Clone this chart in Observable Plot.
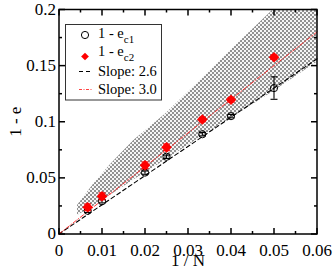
<!DOCTYPE html>
<html><head><meta charset="utf-8">
<script src="https://cdn.jsdelivr.net/npm/d3@7"></script>
<script src="https://cdn.jsdelivr.net/npm/@observablehq/plot@0.6"></script>
<style>body{margin:0;background:#fff} svg{display:block}</style>
</head><body><div id="chart"></div>
<script>
// data
const invN = [1/150, 0.01, 0.02, 0.025, 1/30, 0.04, 0.05];
const ec1 = [0.0207, 0.0292, 0.0547, 0.0688, 0.0889, 0.1050, 0.1300];
const ec1Err = [0.0015, 0.0015, 0.0015, 0.0015, 0.0015, 0.0015, 0.0100];
const ec2 = [0.0238, 0.0336, 0.0612, 0.0772, 0.1020, 0.1196, 0.1575];
const ec2Err = [0.003, 0.003, 0.003, 0.003, 0.002, 0.002, 0.002];
const slopeNames = ["Slope: 2.6", "Slope: 3.0"];
const slopes = [2.6, 3.0];
const lineX = [0, 0.06];
const bandX     = [0.0043, 0.008, 0.012, 0.0174, 0.0248, 0.0321, 0.0391, 0.0499, 0.06];
const bandLower = [0.0165, 0.0245, 0.0345, 0.0480, 0.0660, 0.0840, 0.1010, 0.1270, 0.1530];
const bandUpper = [0.0254, 0.0440, 0.0620, 0.0833, 0.1070, 0.1339, 0.1606, 0.2000, 0.2000];
const xTicks = [0, 0.01, 0.02, 0.03, 0.04, 0.05, 0.06];
const xTickLabels = ["0", "0.01", "0.02", "0.03", "0.04", "0.05", "0.06"];
const xMinor = [0.005, 0.015, 0.025, 0.035, 0.045, 0.055];
const yTicks = [0, 0.05, 0.1, 0.15, 0.2];
const yTickLabels = ["0", "0.05", "0.1", "0.15", "0.2"];
const yMinor = [0.025, 0.075, 0.125, 0.175];

const s1 = invN.map((x, i) => ({x, y: ec1[i], e: ec1Err[i]}));
const s2 = invN.map((x, i) => ({x, y: ec2[i], e: ec2Err[i]}));
const band = bandX.map((x, i) => ({x, lo: bandLower[i], hi: bandUpper[i]}));
const fitLines = slopes.flatMap((s, k) => lineX.map(x => ({x, y: s * x, k})));

const seg = (dx1, dy1, dx2, dy2) => ({draw(c) { c.moveTo(dx1, dy1); c.lineTo(dx2, dy2); }});
const capSym = seg(-3.5, 0, 3.5, 0);
const major = 6, minor = 3;

const FONT = "'Liberation Serif', 'Times New Roman', serif";

const plot = Plot.plot({
  width: 333, height: 271,
  marginLeft: 58.5, marginRight: 16.5, marginTop: 9, marginBottom: 37.5,
  x: {domain: [0, 0.06]},
  y: {domain: [0, 0.2]},
  style: {fontFamily: FONT, fontSize: "17px", color: "black", background: "white"},
  marks: [
    Plot.areaY(band, {x: "x", y1: "lo", y2: "hi", fill: "url(#hatch)", curve: "linear"}),
    Plot.line(fitLines.filter(d => d.k === 0), {x: "x", y: "y", stroke: "black", strokeWidth: 1.1, strokeDasharray: "4,3"}),
    Plot.line(fitLines.filter(d => d.k === 1), {x: "x", y: "y", stroke: "#ff2020", strokeWidth: 0.9, strokeDasharray: "4,2,1,2"}),
    // black series error bars + points
    Plot.ruleX(s1, {x: "x", y1: d => d.y - d.e, y2: d => d.y + d.e, stroke: "black", strokeWidth: 1.1}),
    Plot.dot(s1, {x: "x", y: d => d.y - d.e, symbol: capSym, r: 3.5, stroke: "black", fill: "none", strokeWidth: 1.1}),
    Plot.dot(s1, {x: "x", y: d => d.y + d.e, symbol: capSym, r: 3.5, stroke: "black", fill: "none", strokeWidth: 1.1}),
    Plot.dot(s1, {x: "x", y: "y", r: 3.6, stroke: "black", fill: "none", strokeWidth: 1}),
    // red series
    Plot.ruleX(s2, {x: "x", y1: d => d.y - d.e, y2: d => d.y + d.e, stroke: "red", strokeWidth: 1.1}),
    Plot.dot(s2, {x: "x", y: d => d.y - d.e, symbol: capSym, r: 3.5, stroke: "red", fill: "none", strokeWidth: 1.1}),
    Plot.dot(s2, {x: "x", y: d => d.y + d.e, symbol: capSym, r: 3.5, stroke: "red", fill: "none", strokeWidth: 1.1}),
    Plot.dot(s2, {x: "x", y: "y", r: 4.8, symbol: "diamond2", fill: "red", stroke: "none"}),
    // inward ticks
    Plot.dot(xTicks, {x: d => d, y: () => 0, symbol: seg(0, 0, 0, -major), stroke: "black", fill: "none"}),
    Plot.dot(xTicks, {x: d => d, y: () => 0.2, symbol: seg(0, 0, 0, major), stroke: "black", fill: "none"}),
    Plot.dot(xMinor, {x: d => d, y: () => 0, symbol: seg(0, 0, 0, -minor), stroke: "black", fill: "none"}),
    Plot.dot(xMinor, {x: d => d, y: () => 0.2, symbol: seg(0, 0, 0, minor), stroke: "black", fill: "none"}),
    Plot.dot(yTicks, {y: d => d, x: () => 0, symbol: seg(0, 0, major, 0), stroke: "black", fill: "none"}),
    Plot.dot(yTicks, {y: d => d, x: () => 0.06, symbol: seg(0, 0, -major, 0), stroke: "black", fill: "none"}),
    Plot.dot(yMinor, {y: d => d, x: () => 0, symbol: seg(0, 0, minor, 0), stroke: "black", fill: "none"}),
    Plot.dot(yMinor, {y: d => d, x: () => 0.06, symbol: seg(0, 0, -minor, 0), stroke: "black", fill: "none"}),
    Plot.axisX({ticks: xTicks, tickFormat: (d, i) => xTickLabels[i], tickSize: 0, tickPadding: 10, label: null, fontSize: 17}),
    Plot.axisY({ticks: yTicks, tickFormat: (d, i) => yTickLabels[i], tickSize: 0, tickPadding: 3, label: null, fontSize: 17}),
    Plot.frame({stroke: "black", strokeWidth: 1.5}),
    Plot.text(["1 / N"], {text: d => d, frameAnchor: "bottom", lineAnchor: "middle", dy: 27, fontSize: 17}),
    Plot.text(["1 - e"], {text: d => d, frameAnchor: "left", lineAnchor: "middle", textAnchor: "middle", dx: -43.5, rotate: -90, fontSize: 17})
  ]
});

// pattern definition
const svg = d3.select(plot);
const defs = svg.insert("defs", ":first-child");
const pat = defs.append("pattern").attr("id", "hatch").attr("patternUnits", "userSpaceOnUse")
  .attr("width", 4).attr("height", 4);
pat.append("rect").attr("width", 4).attr("height", 4).attr("fill", "#f6f6f6");
pat.append("rect").attr("x", 0).attr("y", 0).attr("width", 2).attr("height", 2).attr("fill", "#929292");
pat.append("rect").attr("x", 2).attr("y", 2).attr("width", 2).attr("height", 2).attr("fill", "#929292");

// legend
const lg = svg.append("g").attr("font-family", FONT).attr("font-size", 14.5).attr("fill", "black").attr("text-anchor", "start");
lg.append("rect").attr("x", 65.5).attr("y", 24.5).attr("width", 96).attr("height", 75.5)
  .attr("fill", "white").attr("stroke", "#333").attr("stroke-width", 1);
lg.append("circle").attr("cx", 85).attr("cy", 35).attr("r", 3.6).attr("fill", "none").attr("stroke", "black");
lg.append("path").attr("d", d3.symbol(d3.symbolSquare, 30)()).attr("transform", "translate(85,56.5) rotate(45)").attr("fill", "red");
lg.append("line").attr("x1", 79).attr("x2", 92).attr("y1", 71.5).attr("y2", 71.5).attr("stroke", "black").attr("stroke-dasharray", "4,3");
lg.append("line").attr("x1", 79).attr("x2", 92).attr("y1", 89.5).attr("y2", 89.5).attr("stroke", "#ff4040").attr("stroke-dasharray", "3,1.5,1,1.5");
const sub = (y, s) => {
  const t = lg.append("text").attr("x", 98).attr("y", y);
  t.append("tspan").text("1 - e");
  t.append("tspan").attr("dy", 5).attr("font-size", 11).text(s);
};
sub(38, "c1");
sub(56, "c2");
lg.append("text").attr("x", 98).attr("y", 76).text(slopeNames[0]);
lg.append("text").attr("x", 98).attr("y", 94).text(slopeNames[1]);

document.getElementById("chart").appendChild(plot);
</script>
</body></html>
